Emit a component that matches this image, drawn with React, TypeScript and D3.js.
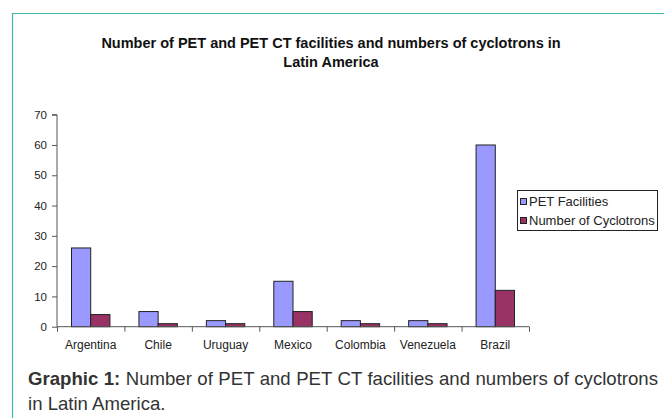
import React, { useEffect, useRef } from "react";
import * as d3 from "d3";

const countries = ["Argentina", "Chile", "Uruguay", "Mexico", "Colombia", "Venezuela", "Brazil"];
const petFacilities = [26, 5, 2, 15, 2, 2, 60];
const cyclotrons = [4, 1, 1, 5, 1, 1, 12];
const yTicks = [0, 10, 20, 30, 40, 50, 60, 70];
const seriesNames = ["PET Facilities", "Number of Cyclotrons"];
const seriesColors = ["#9999ff", "#993366"];

const App = () => {
  const svgRef = useRef<SVGSVGElement>(null);

  useEffect(() => {
    const w = 664;
    const h = 418;
    const svg = d3.select(svgRef.current).attr("width", w).attr("height", h);
    svg.selectAll("*").remove();

    const font = "'Liberation Sans', Arial, sans-serif";

    // frame (only top and left edge visible)
    svg.append("path")
      .attr("d", `M12.5,${h} L12.5,13.5 L${w},13.5`)
      .attr("fill", "none")
      .attr("stroke", "#41b6a6")
      .attr("stroke-width", 1.2);

    // title
    const title = svg.append("text")
      .attr("text-anchor", "middle")
      .attr("font-family", font)
      .attr("font-weight", "bold")
      .attr("font-size", 14.5)
      .attr("fill", "#111");
    title.append("tspan").attr("x", 331).attr("y", 48)
      .text("Number of PET and PET CT facilities and numbers of cyclotrons in");
    title.append("tspan").attr("x", 331).attr("y", 67).text("Latin America");

    const left = 57;
    const right = 529;
    const top = 114.7;
    const bottom = 326.7;

    const x0 = d3.scaleBand().domain(countries).range([left, right]).paddingInner(0.43).paddingOuter(0.215);
    const x1 = d3.scaleBand().domain(seriesNames).range([0, x0.bandwidth()]);
    const y = d3.scaleLinear().domain([0, 70]).range([bottom, top]);

    // bars
    const data = countries.map((c, i) => ({ c, vals: [petFacilities[i], cyclotrons[i]] }));
    const groups = svg.append("g").selectAll("g").data(data).join("g")
      .attr("transform", (d) => `translate(${x0(d.c)},0)`);
    groups.selectAll("rect")
      .data((d) => d.vals.map((v, j) => ({ v, j })))
      .join("rect")
      .attr("x", (d) => x1(seriesNames[d.j])!)
      .attr("y", (d) => y(d.v))
      .attr("width", x1.bandwidth())
      .attr("height", (d) => bottom - y(d.v))
      .attr("fill", (d) => seriesColors[d.j])
      .attr("stroke", "#222")
      .attr("stroke-width", 1);

    // y axis
    const yAxis = d3.axisLeft(y).tickValues(yTicks).tickSize(5).tickPadding(5);
    const gy = svg.append("g").attr("transform", `translate(${left},0)`).call(yAxis);
    gy.select(".domain").attr("stroke", "#555").attr("d", `M-5,${top}H0V${bottom}`);
    gy.selectAll(".tick line").attr("stroke", "#555");
    gy.selectAll(".tick text").attr("font-family", font).attr("font-size", 11.5).attr("fill", "#222");

    // x axis with ticks at category boundaries
    const xLin = d3.scaleLinear().domain([0, countries.length]).range([left, right]);
    const gx = svg.append("g").attr("transform", `translate(0,${bottom})`)
      .call(d3.axisBottom(xLin).ticks(countries.length).tickSize(5).tickFormat(() => ""));
    gx.select(".domain").attr("stroke", "#555").attr("d", `M${left},0H${right}`);
    gx.selectAll(".tick line").attr("stroke", "#555");

    svg.append("g").selectAll("text").data(countries).join("text")
      .attr("x", (d) => x0(d)! + x0.bandwidth() / 2)
      .attr("y", 349)
      .attr("text-anchor", "middle")
      .attr("font-family", font)
      .attr("font-size", 12)
      .attr("fill", "#222")
      .text((d) => d);

    // legend
    const lg = svg.append("g");
    lg.append("rect").attr("x", 517.5).attr("y", 190.5).attr("width", 140).attr("height", 40)
      .attr("fill", "#fff").attr("stroke", "#222");
    seriesNames.forEach((s, i) => {
      lg.append("rect").attr("x", 520.5).attr("y", 198.5 + i * 19).attr("width", 6).attr("height", 6)
        .attr("fill", seriesColors[i]).attr("stroke", "#222");
      lg.append("text").attr("x", 529).attr("y", 206 + i * 19)
        .attr("font-family", font).attr("font-size", 13).attr("fill", "#222").text(s);
    });

    // caption
    const capX = 28;
    const capRight = 658;
    const cap1 = svg.append("text").attr("x", capX).attr("y", 385)
      .attr("font-family", font).attr("font-size", 18.6).attr("fill", "#333");
    cap1.append("tspan").attr("font-weight", "bold").text("Graphic 1:");
    cap1.append("tspan").text(" Number of PET and PET CT facilities and numbers of cyclotrons");
    const node = cap1.node() as SVGTextElement;
    const natural = node.getComputedTextLength();
    if (natural > 0 && natural < capRight - capX) {
      cap1.attr("word-spacing", (capRight - capX - natural) / 12);
    }
    svg.append("text").attr("x", capX).attr("y", 410)
      .attr("font-family", font).attr("font-size", 18.6).attr("fill", "#333")
      .text("in Latin America.");
  }, []);

  return (
    <svg ref={svgRef} style={{ position: "absolute", left: 0, top: 0, background: "#fff" }}></svg>
  );
};

export default App;
